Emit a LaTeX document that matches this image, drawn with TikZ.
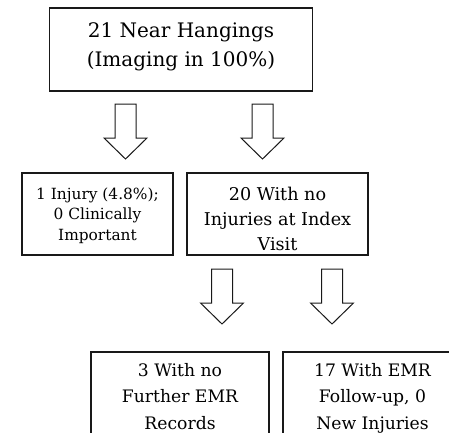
\documentclass[tikz,border=0pt]{standalone}
\usepackage{fontspec}
\setmainfont{DejaVu Serif}
\begin{document}
\begin{tikzpicture}[x=1pt,y=-1pt,
  boxline/.style={draw=black!90, line width=1.3pt, rectangle, inner sep=0pt},
  txt/.style={align=center, inner sep=0pt, anchor=base, text=black},
  arrowline/.style={draw=black!90, line width=1pt, fill=white, line join=miter},
  blockarrow/.pic={\draw[arrowline] (-10.5,0) -- (10.5,0) -- (10.5,34) -- (21.5,34) -- (0,55) -- (-21.5,34) -- (-10.5,34) -- cycle;}]
\useasboundingbox (0,0) rectangle (449,432);
\clip (0,0) rectangle (449,432);
% boxes
\node[boxline, minimum width=262.5pt, minimum height=83pt] (top) at (181,49.5) {};
\node[boxline, minimum width=151pt, minimum height=82pt] (ml) at (97.5,214) {};
\node[boxline, minimum width=181pt, minimum height=82pt] (mr) at (277.5,214) {};
\node[boxline, minimum width=178pt, minimum height=110pt] (bl) at (180,407) {};
\node[boxline, minimum width=179pt, minimum height=110pt] (br) at (372.5,407) {};
% texts (base anchor = baseline of last line)
\node[txt, font=\fontsize{20}{29.5}\selectfont] (ttop) at (181,66.8) {21 Near Hangings\\(Imaging in 100\%)};
\node[txt, font=\fontsize{15.4}{20.5}\selectfont] (tml) at (97.5,240) {1 Injury (4.8\%);\\0 Clinically\\Important};
\node[txt, font=\fontsize{17.6}{25}\selectfont] (tmr) at (277.5,250) {20 With no\\Injuries at Index\\Visit};
\node[txt, font=\fontsize{17.2}{26.5}\selectfont] (tbl) at (180,429) {3 With no\\Further EMR\\Records};
\node[txt, font=\fontsize{17.2}{26.5}\selectfont] (tbr) at (372.5,429) {17 With EMR\\Follow-up, 0\\New Injuries};
% block arrows
\pic at (125.5,104) {blockarrow};
\pic at (262.5,104) {blockarrow};
\pic at (222,269) {blockarrow};
\pic at (332,269) {blockarrow};
\end{tikzpicture}
\end{document}
